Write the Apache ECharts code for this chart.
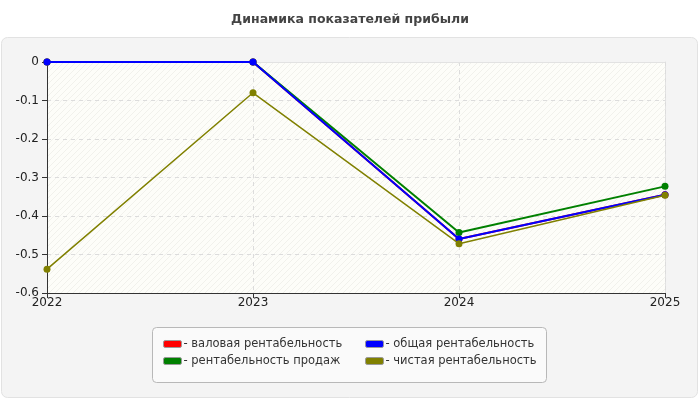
<!DOCTYPE html>
<html>
<head>
<meta charset="utf-8">
<script src="https://cdn.jsdelivr.net/npm/echarts@6/dist/echarts.min.js"></script>
<style>html,body{margin:0;padding:0;background:#fff;}#c{width:700px;height:400px;}</style>
</head>
<body>
<div id="c"></div>
<script>
var categories = ['2022', '2023', '2024', '2025'];
var grossMargin = [0, 0, -0.46, -0.345];
var salesMargin = [0, 0, -0.443, -0.323];
var totalMargin = [0, 0, -0.46, -0.345];
var netMargin = [-0.538, -0.08, -0.472, -0.346];
var seriesNames = ['валовая рентабельность', 'рентабельность продаж', 'общая рентабельность', 'чистая рентабельность'];
var seriesColors = ['#ff0000', '#008000', '#0000ff', '#808000'];

var pc = document.createElement('canvas');
pc.width = 6; pc.height = 6;
var g = pc.getContext('2d');
g.fillStyle = '#fdfdf9';
g.fillRect(0, 0, 6, 6);
g.strokeStyle = '#f1f1ec';
g.lineWidth = 1;
g.beginPath();
g.moveTo(0, 6); g.lineTo(6, 0);
g.moveTo(-1, 1); g.lineTo(1, -1);
g.moveTo(5, 7); g.lineTo(7, 5);
g.stroke();
var hatch = { image: pc, repeat: 'repeat' };

var chart = echarts.init(document.getElementById('c'));
var dataSets = [grossMargin, salesMargin, totalMargin, netMargin];
var widths = [2, 2, 2, 1.5];
var series = dataSets.map(function (d, i) {
  return {
    name: seriesNames[i],
    type: 'line',
    data: d,
    symbol: 'circle',
    symbolSize: 7,
    showSymbol: true,
    lineStyle: { color: seriesColors[i], width: widths[i] },
    itemStyle: { color: seriesColors[i] },
    z: 10 + i,
    animation: false
  };
});

var legendCommon = {
  orient: 'vertical',
  icon: 'roundRect',
  itemWidth: 18,
  itemHeight: 7,
  itemGap: 3,
  padding: 0,
  top: 337,
  formatter: '- {name}',
  itemStyle: { borderColor: '#9a9a9a', borderWidth: 1 },
  textStyle: { fontSize: 11.5, color: '#333', fontFamily: 'DejaVu Sans, sans-serif', lineHeight: 14, padding: [0, 0, 0, -3] },
  selectedMode: false
};

var borderAxisStyle = { show: true, onZero: false, lineStyle: { color: '#e2e2e2', width: 1 } };

chart.setOption({
  animation: false,
  backgroundColor: '#ffffff',
  title: {
    text: 'Динамика показателей прибыли',
    left: 'center',
    top: 13,
    padding: 0,
    textStyle: { fontSize: 12.5, fontWeight: 'bold', color: '#444', fontFamily: 'DejaVu Sans, sans-serif' }
  },
  graphic: [
    { type: 'rect', z: -10, shape: { x: 1.5, y: 37.5, width: 696, height: 360, r: 6 }, style: { fill: '#f4f4f4', stroke: '#e2e2e2', lineWidth: 1 } },
    { type: 'rect', z: -5, shape: { x: 152.5, y: 327.5, width: 394, height: 55, r: 4 }, style: { fill: '#fafafa', stroke: '#b8b8b8', lineWidth: 1 } }
  ],
  legend: [
    Object.assign({}, legendCommon, { left: 163, data: [seriesNames[0], seriesNames[1]] }),
    Object.assign({}, legendCommon, { left: 365, data: [seriesNames[2], seriesNames[3]] })
  ],
  grid: {
    left: 47, right: 35, top: 62, bottom: 107,
    show: false
  },
  xAxis: [{
    type: 'category',
    data: categories,
    boundaryGap: false,
    z: 6,
    axisLine: { onZero: false, lineStyle: { color: '#333', width: 1 } },
    axisTick: { show: true, alignWithLabel: true, length: 5, lineStyle: { color: '#333' } },
    axisLabel: { color: '#222', fontSize: 12, margin: 4, fontFamily: 'DejaVu Sans, sans-serif' },
    splitLine: { show: false }
  }, {
    type: 'category',
    data: categories,
    boundaryGap: false,
    position: 'top',
    z: 1,
    axisLine: borderAxisStyle,
    axisTick: { show: false },
    axisLabel: { show: false },
    splitLine: { show: true, lineStyle: { color: '#dcdcdc', type: [4, 4] } }
  }],
  yAxis: [{
    type: 'value',
    min: -0.6,
    max: 0,
    interval: 0.1,
    z: 7,
    axisLine: { show: true, onZero: false, lineStyle: { color: '#333', width: 1 } },
    axisTick: { show: true, length: 5, lineStyle: { color: '#333' } },
    axisLabel: { color: '#222', fontSize: 12, margin: 8, fontFamily: 'DejaVu Sans, sans-serif',
      formatter: function (v) { return String(Math.round(v * 10) / 10); } },
    splitLine: { show: false }
  }, {
    type: 'value',
    min: -0.6,
    max: 0,
    interval: 0.1,
    position: 'right',
    z: 0,
    axisLine: borderAxisStyle,
    axisTick: { show: false },
    axisLabel: { show: false },
    splitLine: { show: true, lineStyle: { color: '#dcdcdc', type: [4, 4] } },
    splitArea: { show: true, areaStyle: { color: [hatch] } }
  }],
  series: series
});
</script>
</body>
</html>
